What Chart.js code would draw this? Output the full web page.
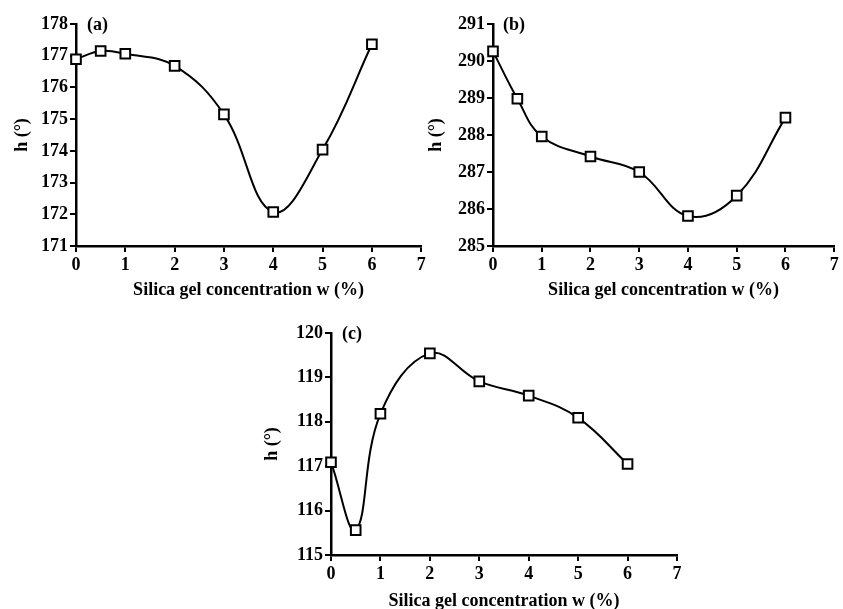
<!DOCTYPE html>
<html>
<head>
<meta charset="utf-8">
<script src="https://cdn.jsdelivr.net/npm/chart.js@4/dist/chart.umd.min.js"></script>
<style>
body { margin: 0; background: #fff; width: 843px; height: 609px; position: relative; overflow: hidden; }
.box { position: absolute; }
</style>
</head>
<body>
<div class="box" style="left:0;top:0"><canvas id="chartA" width="430" height="305"></canvas></div>
<div class="box" style="left:420px;top:0"><canvas id="chartB" width="423" height="305"></canvas></div>
<div class="box" style="left:250px;top:305px"><canvas id="chartC" width="440" height="310"></canvas></div>
<script>
// silica gel concentration (x) and hue angle h for the three panels
const wPercent = [0, 0.5, 1, 2, 3, 4, 5, 6];
const hA = [176.89, 177.15, 177.06, 176.68, 175.15, 172.07, 174.04, 177.36];
const hB = [290.26, 288.98, 287.96, 287.42, 287.0, 285.81, 286.36, 288.47];
const hC = [117.09, 115.56, 118.18, 119.54, 118.91, 118.59, 118.09, 117.05];
const xTitle = 'Silica gel concentration w (%)';
const yTitle = 'h (°)';

const FONT = 'Liberation Serif';

// draws the (a)/(b)/(c) tag in the top left corner of the plot
const panelLabel = {
  id: 'panelLabel',
  afterDraw(chart, args, opts) {
    const ctx = chart.ctx;
    ctx.save();
    ctx.font = 'bold 18px "' + FONT + '"';
    ctx.fillStyle = '#000';
    ctx.textBaseline = 'middle';
    ctx.fillText(opts.text, chart.chartArea.left + opts.dx, chart.chartArea.top + opts.dy);
    ctx.restore();
  }
};

function makeChart(id, tag, values, yMin, yMax, g) {
  var ctx = document.getElementById(id).getContext('2d');
  var pts = wPercent.map((x, i) => ({ x: x, y: values[i] }));
  return new Chart(ctx, {
    type: 'line',
    data: {
      datasets: [{
        data: pts,
        borderColor: '#000',
        borderWidth: 2,
        tension: 0.4,
        pointStyle: 'rect',
        pointRadius: 6.8,
        pointBackgroundColor: '#fff',
        pointBorderColor: '#000',
        pointBorderWidth: 2,
        clip: false
      }]
    },
    options: {
      responsive: false,
      animation: false,
      layout: { padding: g.pad },
      plugins: {
        legend: { display: false },
        tooltip: { enabled: false },
        panelLabel: { text: tag, dx: g.tagX, dy: 1 }
      },
      scales: {
        x: {
          type: 'linear',
          min: 0, max: 7,
          afterFit: s => { s.height = g.xH; },
          border: { color: '#000', width: 2.5 },
          grid: { drawOnChartArea: false, color: '#000', lineWidth: 2, tickLength: 6 },
          ticks: { stepSize: 1, color: '#000', padding: 3, font: { family: FONT, size: 18, weight: 'bold' } },
          title: { display: true, text: xTitle, color: '#000', padding: { top: 0, bottom: g.xtPad },
                   font: { family: FONT, size: 18, weight: 'bold' } }
        },
        y: {
          min: yMin, max: yMax,
          afterFit: s => { s.width = g.yW; },
          border: { color: '#000', width: 2.5 },
          grid: { drawOnChartArea: false, color: '#000', lineWidth: 2, tickLength: 6 },
          ticks: { stepSize: 1, color: '#000', padding: 2, font: { family: FONT, size: 18, weight: 'bold' } },
          title: { display: true, text: yTitle, color: '#000', padding: { top: g.ytPad, bottom: 0 },
                   font: { family: FONT, size: 18, weight: 'bold' } }
        }
      }
    },
    plugins: [panelLabel]
  });
}

makeChart('chartA', '(a)', hA, 171, 178, { pad: { left: 0, top: 24, right: 8, bottom: 0 }, yW: 76, xH: 59, xtPad: 4, ytPad: 12, tagX: 11 });
makeChart('chartB', '(b)', hB, 285, 291, { pad: { left: 0, top: 24, right: 3, bottom: 0 }, yW: 73, xH: 59, xtPad: 4, ytPad: 6, tagX: 10 });
makeChart('chartC', '(c)', hC, 115, 120, { pad: { left: 0, top: 28, right: 13, bottom: 0 }, yW: 81, xH: 60, xtPad: 3, ytPad: 12, tagX: 11 });
</script>
</body>
</html>
